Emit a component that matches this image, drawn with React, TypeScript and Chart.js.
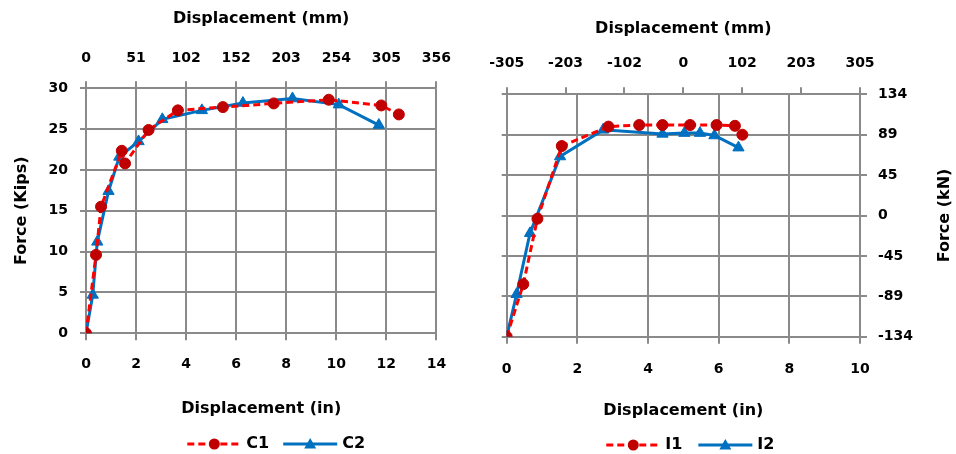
import React, { useEffect, useRef } from 'react';
import { Chart, registerables } from 'chart.js';
Chart.register(...registerables);

// ---------- data (inches / kips) ----------
const c1X = [0, 0.4, 0.6, 1.43, 1.56, 2.5, 3.67, 5.47, 7.5, 9.7, 11.8, 12.5];
const c1Y = [0, 9.6, 15.5, 22.35, 20.8, 24.9, 27.3, 27.7, 28.15, 28.6, 27.9, 26.8];
const c2X = [0, 0.27, 0.45, 0.9, 1.33, 2.1, 3.05, 4.63, 6.27, 8.25, 10.1, 11.7];
const c2Y = [0, 4.7, 11.2, 17.4, 21.6, 23.5, 26.2, 27.3, 28.2, 28.75, 28.0, 25.5];
const i1X = [0, 0.47, 0.87, 1.56, 2.88, 3.75, 4.41, 5.19, 5.94, 6.46, 6.67];
const i1Y = [0, 6.5, 14.6, 23.6, 26.0, 26.2, 26.2, 26.2, 26.2, 26.1, 25.0];
const i2X = [0, 0.28, 0.66, 1.51, 2.73, 4.41, 5.03, 5.47, 5.88, 6.56];
const i2Y = [0, 5.25, 12.8, 22.3, 25.6, 25.1, 25.2, 25.2, 24.9, 23.4];

// ---------- tick labels ----------
const leftTopTickLabels = ['0', '51', '102', '152', '203', '254', '305', '356'];
const rightTopTickValues = [-304.8, -203.2, -101.6, 0, 101.6, 203.2, 304.8];
const rightYTickLabels = ['-134', '-89', '-45', '0', '45', '89', '134'];

const FONT = '"DejaVu Sans", sans-serif';
const GRID = '#8a8a8a';
const RED = '#FF0000';
const DARKRED = '#C00000';
const BLUE = '#0070C0';

const tickFont = { family: FONT, size: 14, weight: 'bold' as const };
const titleFont = { family: FONT, size: 16, weight: 'bold' as const };

const pts = (xs: number[], ys: number[]) => xs.map((x, i) => ({ x, y: ys[i] }));

function redSet(label: string, data: any) {
  return {
    label, data, showLine: true,
    borderColor: RED, borderWidth: 3, borderDash: [7, 4],
    pointStyle: 'circle', pointRadius: 5.5,
    pointBackgroundColor: DARKRED, pointBorderColor: DARKRED, pointBorderWidth: 1,
    xAxisID: 'x', yAxisID: 'y',
  };
}
function blueSet(label: string, data: any) {
  return {
    label, data, showLine: true,
    borderColor: BLUE, borderWidth: 3,
    pointStyle: 'triangle', pointRadius: 6.5,
    pointBackgroundColor: BLUE, pointBorderColor: BLUE, pointBorderWidth: 1,
    xAxisID: 'x', yAxisID: 'y',
  };
}

const overlayPlugin = {
  id: 'overlay',
  afterDraw(chart: any, _args: any, opts: any) {
    const ctx = chart.ctx as CanvasRenderingContext2D;
    const ca = chart.chartArea;
    ctx.save();
    if (opts.legend) {
      const items = opts.legend.items as { label: string; kind: 'red' | 'blue' }[];
      ctx.font = `bold 16px ${FONT}`;
      const lineLen = 54;
      const gapText = 5;
      const gapItem = opts.legend.gap;
      const widths = items.map((it) => lineLen + gapText + ctx.measureText(it.label).width);
      const total = widths.reduce((a, b) => a + b, 0) + gapItem * (items.length - 1);
      let x = (ca.left + ca.right) / 2 + (opts.legend.offset || 0) - total / 2;
      const y = opts.legend.y;
      items.forEach((it, k) => {
        ctx.lineWidth = 3;
        if (it.kind === 'red') {
          ctx.strokeStyle = RED;
          ctx.setLineDash([7, 4]);
        } else {
          ctx.strokeStyle = BLUE;
          ctx.setLineDash([]);
        }
        ctx.beginPath();
        ctx.moveTo(x, y);
        ctx.lineTo(x + lineLen, y);
        ctx.stroke();
        ctx.setLineDash([]);
        const mx = x + lineLen / 2;
        if (it.kind === 'red') {
          ctx.fillStyle = DARKRED;
          ctx.beginPath();
          ctx.arc(mx, y, 5.5, 0, Math.PI * 2);
          ctx.fill();
        } else {
          ctx.fillStyle = BLUE;
          ctx.beginPath();
          ctx.moveTo(mx, y - 6);
          ctx.lineTo(mx + 6, y + 4.5);
          ctx.lineTo(mx - 6, y + 4.5);
          ctx.closePath();
          ctx.fill();
        }
        ctx.fillStyle = '#000';
        ctx.textAlign = 'left';
        ctx.textBaseline = 'middle';
        ctx.fillText(it.label, x + lineLen + gapText, y);
        x += widths[k] + gapItem;
      });
    }
    if (opts.rightTitle) {
      ctx.font = `bold 16px ${FONT}`;
      ctx.fillStyle = '#000';
      ctx.textAlign = 'center';
      ctx.textBaseline = 'middle';
      ctx.translate(opts.rightTitle.x, (ca.top + ca.bottom) / 2);
      ctx.rotate(-Math.PI / 2);
      ctx.fillText(opts.rightTitle.text, 0, 0);
    }
    ctx.restore();
  },
};

function ChartCanvas({ config, left, width, height }: { config: any; left: number; width: number; height: number }) {
  const ref = useRef<HTMLCanvasElement>(null);
  useEffect(() => {
    if (!ref.current) return;
    const chart = new Chart(ref.current, config);
    return () => chart.destroy();
  }, []);
  return (
    <canvas
      ref={ref}
      width={width}
      height={height}
      style={{ position: 'absolute', left, top: 0, width, height }}
    />
  );
}

const gridBase = { color: GRID, lineWidth: 2, tickColor: GRID, tickWidth: 2 };

const leftConfig = {
  type: 'scatter',
  data: { datasets: [redSet('C1', pts(c1X, c1Y)), blueSet('C2', pts(c2X, c2Y))] },
  options: {
    responsive: false,
    animation: false,
    layout: { padding: { left: 0, right: 18, top: 0, bottom: 30 } },
    plugins: {
      legend: { display: false },
      tooltip: { enabled: false },
      overlay: {
        legend: { y: 444, offset: 15, gap: 14, items: [{ label: 'C1', kind: 'red' }, { label: 'C2', kind: 'blue' }] },
      },
    },
    scales: {
      x: {
        type: 'linear', position: 'bottom', min: 0, max: 14,
        ticks: { stepSize: 2, padding: 16, font: tickFont, color: '#000' },
        grid: { ...gridBase, tickLength: 7 },
        border: { display: false },
        title: { display: true, text: 'Displacement (in)', font: titleFont, color: '#000', padding: { top: 0, bottom: 6 } },
        afterFit: (s: any) => { s.height = 90.7; },
      },
      x2: {
        type: 'linear', position: 'top', min: 0, max: 14,
        afterBuildTicks: (s: any) => { s.ticks = leftTopTickLabels.map((_, i) => ({ value: i * 2 })); },
        ticks: { padding: 15, font: tickFont, color: '#000', callback: (_v: any, i: number) => leftTopTickLabels[i] },
        grid: { ...gridBase, drawOnChartArea: false, tickLength: 7 },
        border: { display: false },
        title: { display: true, text: 'Displacement (mm)', font: titleFont, color: '#000', padding: { top: 9, bottom: 0 } },
        afterFit: (s: any) => { s.height = 88.3; },
      },
      y: {
        type: 'linear', position: 'left', min: 0, max: 30,
        ticks: { stepSize: 5, padding: 12, font: tickFont, color: '#000' },
        grid: { ...gridBase, tickLength: 6 },
        border: { display: false },
        title: { display: true, text: 'Force (Kips)', font: titleFont, color: '#000', padding: { top: 12, bottom: 0 } },
        afterFit: (s: any) => { s.width = 86; },
      },
    },
  },
  plugins: [overlayPlugin],
};

const rightConfig = {
  type: 'scatter',
  data: { datasets: [redSet('I1', pts(i1X, i1Y)), blueSet('I2', pts(i2X, i2Y))] },
  options: {
    responsive: false,
    animation: false,
    layout: { padding: { left: 0, right: 0, top: 0, bottom: 30 } },
    plugins: {
      legend: { display: false },
      tooltip: { enabled: false },
      overlay: {
        legend: { y: 445, offset: 7, gap: 16, items: [{ label: 'I1', kind: 'red' }, { label: 'I2', kind: 'blue' }] },
        rightTitle: { x: 475, text: 'Force (kN)' },
      },
    },
    scales: {
      x: {
        type: 'linear', position: 'bottom', min: 0, max: 10,
        ticks: { stepSize: 2, padding: 17, font: tickFont, color: '#000' },
        grid: { ...gridBase, tickLength: 7 },
        border: { display: false },
        title: { display: true, text: 'Displacement (in)', font: titleFont, color: '#000', padding: { top: 0, bottom: 4 } },
        afterFit: (s: any) => { s.height = 87.3; },
      },
      x2: {
        type: 'linear', position: 'top', min: -304.8, max: 304.8,
        afterBuildTicks: (s: any) => { s.ticks = rightTopTickValues.map((v) => ({ value: v })); },
        ticks: { padding: 16, font: tickFont, color: '#000', callback: (v: any) => String(Math.round(v)) },
        grid: { ...gridBase, drawOnChartArea: false, tickLength: 7 },
        border: { display: false },
        title: { display: true, text: 'Displacement (mm)', font: titleFont, color: '#000', padding: { top: 19, bottom: 0 } },
        afterFit: (s: any) => { s.height = 94.3; },
      },
      y: {
        type: 'linear', position: 'right', min: 0, max: 30,
        ticks: { stepSize: 5, padding: 11, font: tickFont, color: '#000', callback: (_v: any, i: number) => rightYTickLabels[i] },
        grid: { ...gridBase, tickLength: 7 },
        border: { display: false },
        afterFit: (s: any) => { s.width = 96; },
      },
      y2: {
        type: 'linear', position: 'left', min: 0, max: 30,
        ticks: { stepSize: 5, display: false },
        grid: { ...gridBase, drawOnChartArea: false, tickLength: 5 },
        border: { display: false },
        afterFit: (s: any) => { s.width = 36.7; },
      },
    },
  },
  plugins: [overlayPlugin],
};

export default function App() {
  return (
    <div style={{ position: 'absolute', left: 0, top: 0, width: 956, height: 454, background: '#fff' }}>
      <ChartCanvas config={leftConfig} left={0} width={466} height={454} />
      <ChartCanvas config={rightConfig} left={470} width={486} height={454} />
    </div>
  );
}
